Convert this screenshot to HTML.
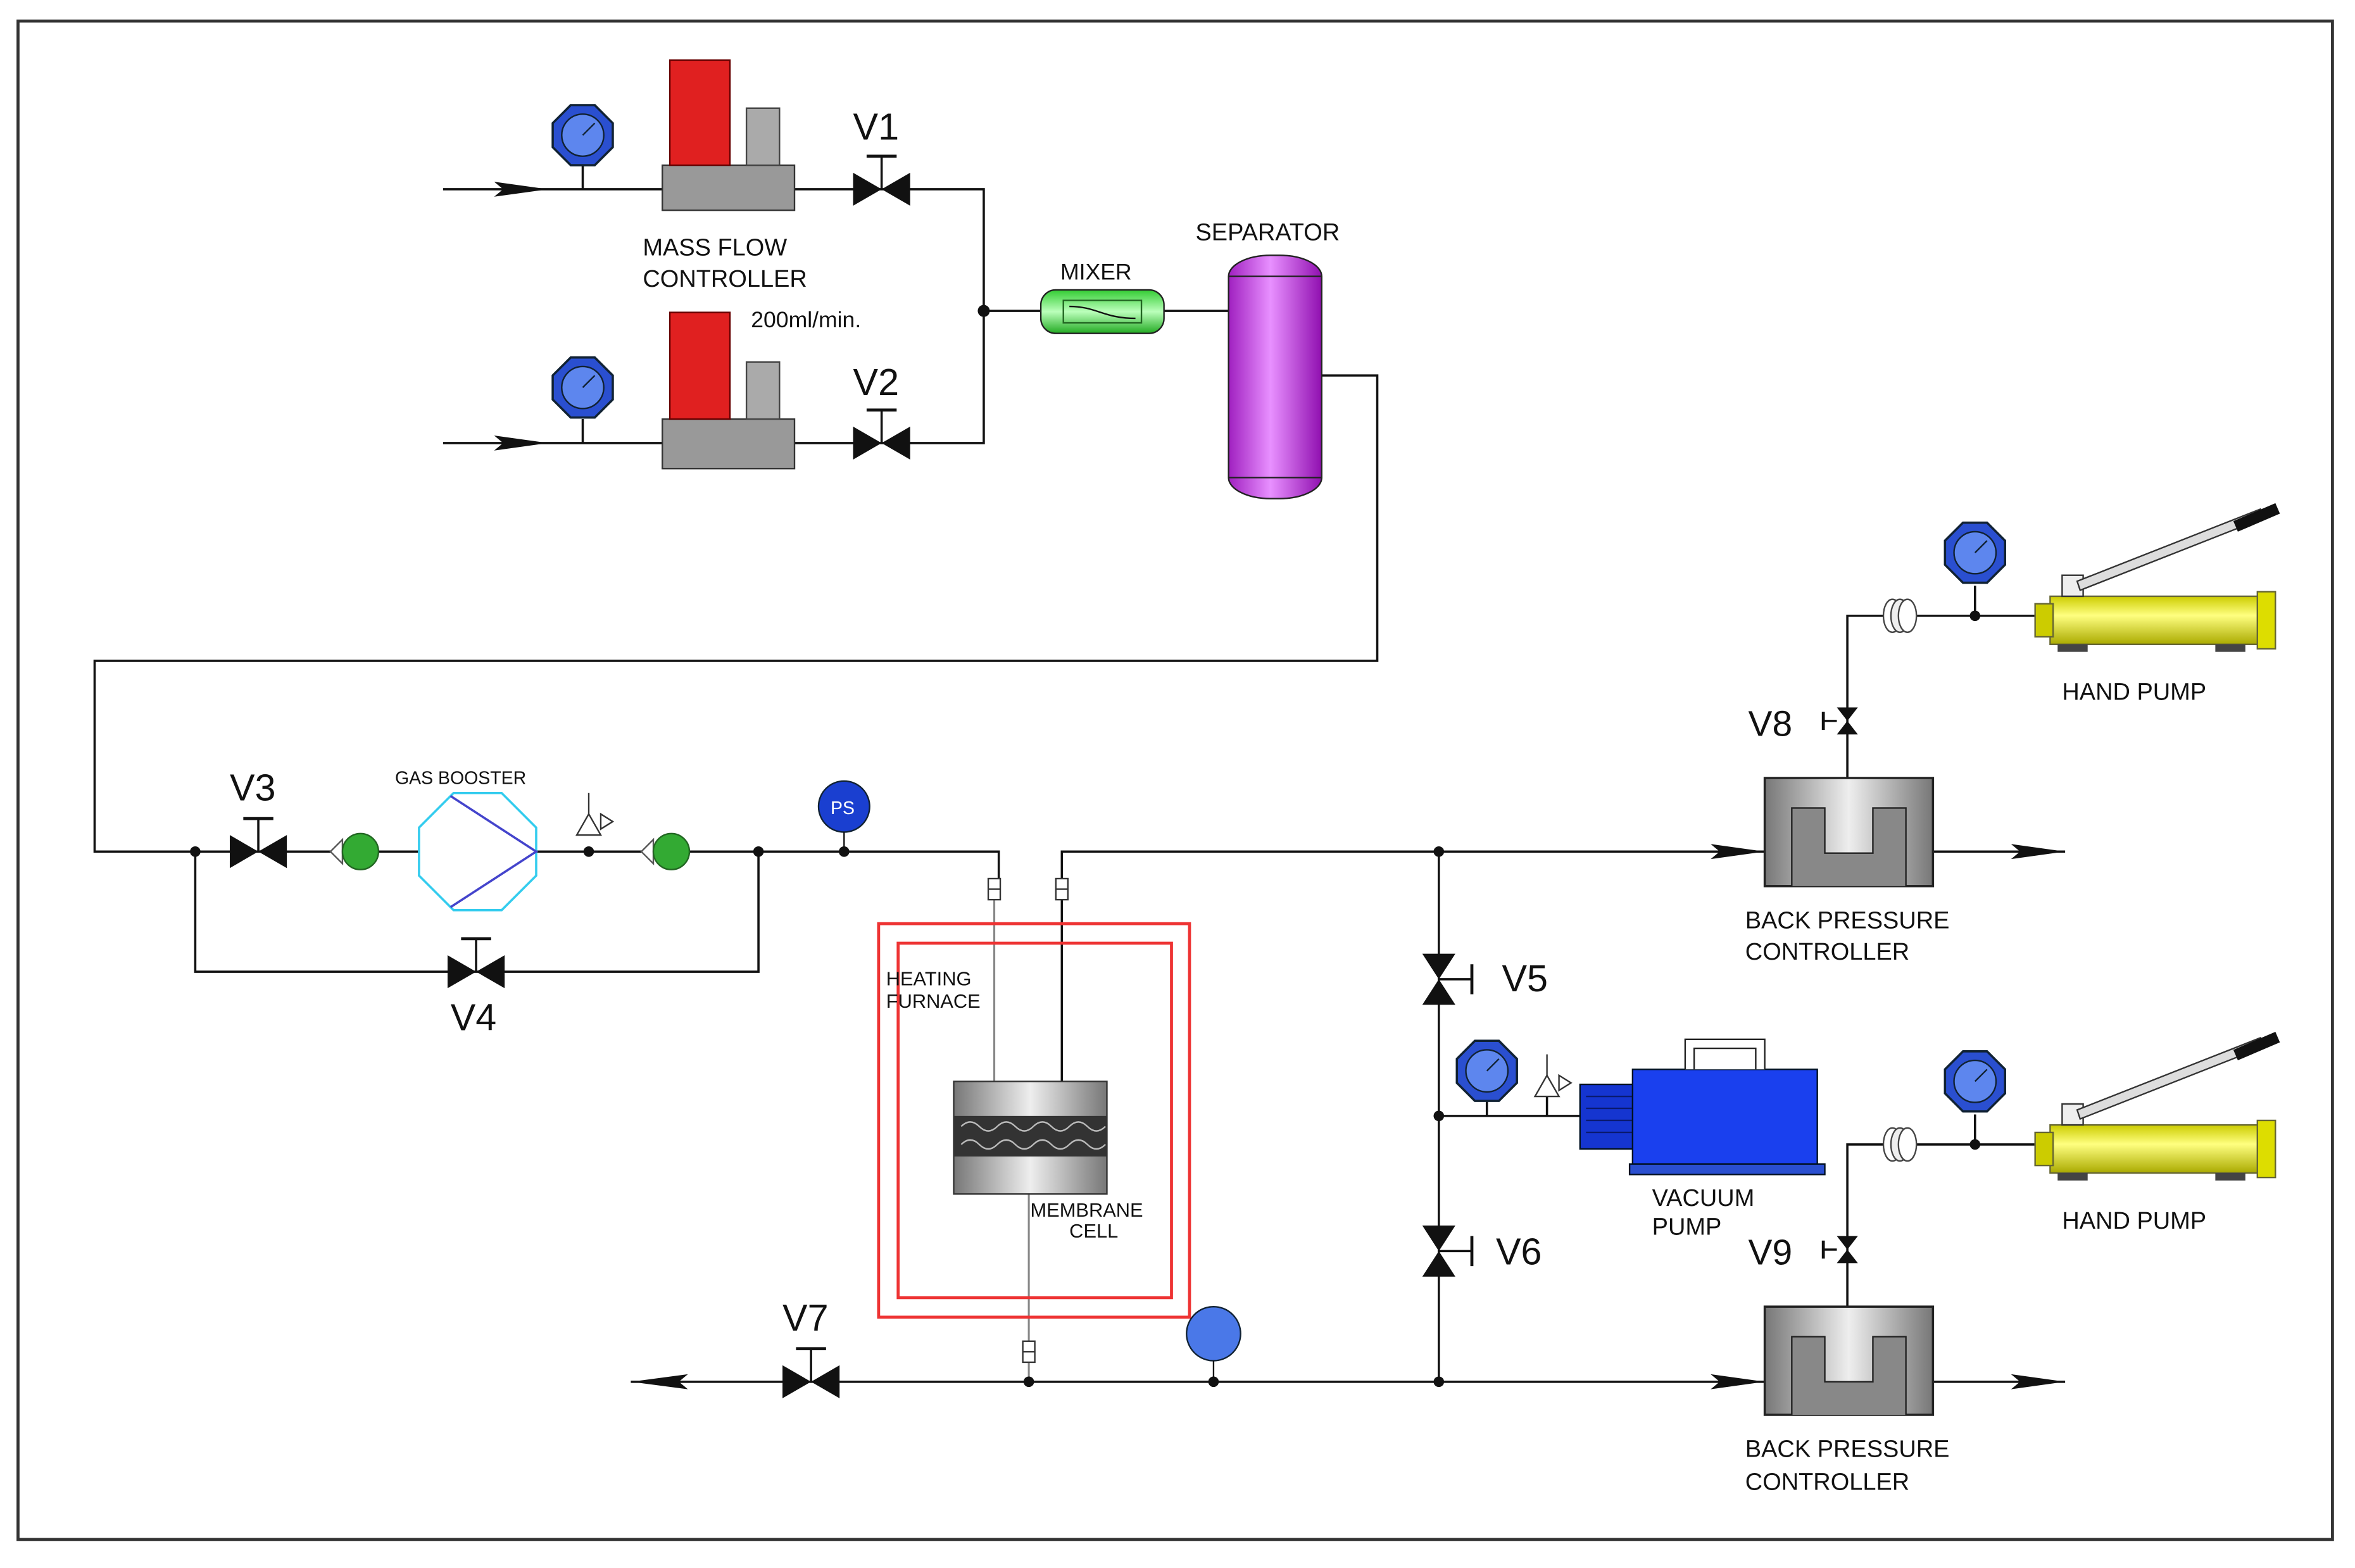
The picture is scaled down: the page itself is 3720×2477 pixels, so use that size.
<!DOCTYPE html>
<html><head><meta charset="utf-8"><style>
html,body{margin:0;padding:0;background:#fff;}
svg{display:block;}
text{font-family:"Liberation Sans",sans-serif;fill:#111;}
</style></head><body>
<svg width="3720" height="2477" viewBox="0 0 1568 1044" preserveAspectRatio="none" xmlns="http://www.w3.org/2000/svg">
<defs>
<linearGradient id="gy" x1="0" x2="1"><stop offset="0" stop-color="#777"/><stop offset="0.5" stop-color="#eee"/><stop offset="1" stop-color="#777"/></linearGradient>
<linearGradient id="pu" x1="0" x2="1"><stop offset="0" stop-color="#a020c0"/><stop offset="0.45" stop-color="#e890ff"/><stop offset="1" stop-color="#9010b0"/></linearGradient>
<linearGradient id="gr" x1="0" x2="0" y1="0" y2="1"><stop offset="0" stop-color="#3c3"/><stop offset="0.5" stop-color="#bfb"/><stop offset="1" stop-color="#2a2"/></linearGradient>
<linearGradient id="ye" x1="0" x2="0" y1="0" y2="1"><stop offset="0" stop-color="#cc0"/><stop offset="0.4" stop-color="#ffff80"/><stop offset="1" stop-color="#aa0"/></linearGradient>
<g id="valveH"><path d="M-19,-11 L19,11 L19,-11 L-19,11 Z" fill="#111"/><line x1="0" y1="0" x2="0" y2="-22" stroke="#111" stroke-width="1.5"/><line x1="-10" y1="-22" x2="10" y2="-22" stroke="#111" stroke-width="2"/></g>
<g id="valveV"><path d="M-11,-17 L11,-17 L-11,17 L11,17 Z" fill="#111"/><line x1="0" y1="0" x2="22" y2="0" stroke="#111" stroke-width="1.5"/><line x1="22" y1="-10" x2="22" y2="10" stroke="#111" stroke-width="2"/></g>
<g id="valveS"><path d="M-7,-9 L7,-9 L-7,9 L7,9 Z" fill="#111"/><line x1="-7" y1="0" x2="-16" y2="0" stroke="#111" stroke-width="1.5"/><line x1="-16" y1="-6" x2="-16" y2="6" stroke="#111" stroke-width="2"/></g>
<g id="gauge"><polygon points="-8,-20 8,-20 20,-8 20,8 8,20 -8,20 -20,8 -20,-8" fill="#2a4fd0" stroke="#123" stroke-width="1.5"/><circle r="14" fill="#5d86ee" stroke="#123"/><line x1="0" y1="0" x2="8" y2="-8" stroke="#123"/></g>
<g id="arrR"><polygon points="-36,-5 0,0 -36,5 -30,0" fill="#111"/></g>
<g id="check"><polygon points="-18,0 -10,-8 -10,8" fill="#fff" stroke="#555"/><circle cx="2" r="12" fill="#3a3" stroke="#262"/></g>
<g id="bpc"><rect x="0" y="0" width="112" height="72" fill="url(#gy)" stroke="#222" stroke-width="1.5"/><path d="M18,72 L18,20 L40,20 L40,50 L72,50 L72,20 L94,20 L94,72" fill="#888" stroke="#222"/></g>
<g id="pump"><rect x="0" y="0" width="140" height="32" fill="url(#ye)" stroke="#663"/><rect x="-10" y="5" width="12" height="22" fill="#cc0" stroke="#663"/><rect x="138" y="-3" width="12" height="38" fill="#dd0" stroke="#663"/><rect x="5" y="32" width="20" height="5" fill="#444"/><rect x="110" y="32" width="20" height="5" fill="#444"/><rect x="8" y="-14" width="14" height="14" fill="#eee" stroke="#333"/><polygon points="18,-10 140,-58 142,-52 20,-4" fill="#ddd" stroke="#333"/><polygon points="122,-50 150,-62 153,-55 125,-43" fill="#111"/></g>
<g id="coup"><ellipse cx="-5" cy="0" rx="6" ry="11" fill="#fff" stroke="#444"/><ellipse cx="0" cy="0" rx="6" ry="11" fill="#eee" stroke="#444"/><ellipse cx="5" cy="0" rx="6" ry="11" fill="#fff" stroke="#444"/></g>
<g id="relief"><polygon points="-8,8 8,8 0,-6" fill="#fff" stroke="#333"/><line x1="0" y1="-6" x2="0" y2="-20" stroke="#333"/><polygon points="8,-6 8,4 16,-1" fill="#fff" stroke="#333"/></g>
<g id="fit"><rect x="-4" y="-7" width="8" height="14" fill="#fff" stroke="#333"/><line x1="-4" y1="0" x2="4" y2="0" stroke="#333"/></g>
</defs>
<rect x="12" y="14" width="1541" height="1011" fill="#fff" stroke="#333" stroke-width="2"/>
<g stroke="#111" stroke-width="1.5" fill="none">
<path d="M295,126 H441 M529,126 H655 V295 H529 M441,295 H295"/>
<path d="M388,110 V126 M388,279 V295"/>
<path d="M655,207 H693 M775,207 H818"/>
<path d="M880,250 H917 V440 H63 V567 H665 V590"/>
<path d="M130,567 V647 H505 V567"/>
<path d="M707,590 V567 H1175 M1287,567 H1375"/>
<path d="M958,567 V920 M958,743 H1055 M990,733 V743 M1030,728 V743"/>
<path d="M420,920 H1175 M1287,920 H1375"/>
<path d="M1230,518 V410 H1365 M1315,390 V410"/>
<path d="M1230,870 V762 H1365 M1315,742 V762"/>
</g>
<path d="M662,598 V720 M707,598 V720 M685,795 V920" stroke="#888" stroke-width="1.3" fill="none"/>
<path d="M707,598 V720" stroke="#111" stroke-width="1.5"/>
<!-- MFCs -->
<rect x="441" y="110" width="88" height="30" fill="#999" stroke="#333"/><rect x="446" y="40" width="40" height="70" fill="#e02020" stroke="#600"/><rect x="497" y="72" width="22" height="38" fill="#aaa" stroke="#444"/>
<rect x="441" y="279" width="88" height="33" fill="#999" stroke="#333"/><rect x="446" y="208" width="40" height="71" fill="#e02020" stroke="#600"/><rect x="497" y="241" width="22" height="38" fill="#aaa" stroke="#444"/>
<use href="#gauge" x="388" y="90"/><use href="#gauge" x="388" y="258"/>
<use href="#arrR" x="365" y="126"/><use href="#arrR" x="365" y="295"/>
<use href="#valveH" x="587" y="126"/><use href="#valveH" x="587" y="295"/>
<text x="568" y="93" font-size="25">V1</text><text x="568" y="263" font-size="25">V2</text>
<text x="428" y="170" font-size="16">MASS FLOW</text><text x="428" y="191" font-size="16">CONTROLLER</text>
<text x="500" y="218" font-size="15">200ml/min.</text>
<circle cx="655" cy="207" r="4" fill="#111"/>
<rect x="693" y="193" width="82" height="29" rx="10" fill="url(#gr)" stroke="#222"/><path d="M708,200 H760 V215 H708 Z" fill="none" stroke="#262"/><path d="M712,204 C730,204 735,212 756,212" stroke="#111" fill="none"/>
<text x="706" y="186" font-size="15">MIXER</text>
<rect x="818" y="170" width="62" height="162" rx="28" ry="14" fill="url(#pu)" stroke="#222"/>
<line x1="818" y1="184" x2="880" y2="184" stroke="#222"/><line x1="818" y1="318" x2="880" y2="318" stroke="#222"/>
<text x="796" y="160" font-size="16">SEPARATOR</text>
<!-- mid line -->
<circle cx="130" cy="567" r="3.5" fill="#111"/><circle cx="392" cy="567" r="3.5" fill="#111"/><circle cx="505" cy="567" r="3.5" fill="#111"/><circle cx="562" cy="567" r="3.5" fill="#111"/>
<use href="#valveH" x="172" y="567"/><text x="153" y="533" font-size="25">V3</text>
<use href="#valveH" x="317" y="647"/><text x="300" y="686" font-size="25">V4</text>
<use href="#check" x="238" y="567"/><use href="#check" x="445" y="567"/>
<polygon points="302,528 334,528 357,551 357,583 334,606 302,606 279,583 279,551" fill="#fff" stroke="#3ce" stroke-width="1.5"/>
<path d="M300,530 L357,567 L300,604" fill="none" stroke="#44c" stroke-width="1.5"/>
<text x="263" y="522" font-size="12">GAS BOOSTER</text>
<use href="#relief" x="392" y="548"/>
<circle cx="562" cy="537" r="17" fill="#1a3fd0" stroke="#123"/><text x="553" y="542" font-size="12" style="fill:#fff">PS</text>
<line x1="562" y1="554" x2="562" y2="567" stroke="#111"/>
<!-- furnace -->
<rect x="585" y="615" width="207" height="262" fill="none" stroke="#e33" stroke-width="2"/>
<rect x="598" y="628" width="182" height="236" fill="none" stroke="#e33" stroke-width="2"/>
<use href="#fit" x="662" y="592"/><use href="#fit" x="707" y="592"/><use href="#fit" x="685" y="900"/>
<text x="590" y="656" font-size="13">HEATING</text><text x="590" y="671" font-size="13">FURNACE</text>
<rect x="635" y="720" width="102" height="75" fill="url(#gy)" stroke="#333"/>
<rect x="635" y="743" width="102" height="27" fill="#333"/>
<path d="M640,750 q6,-6 12,0 t12,0 t12,0 t12,0 t12,0 t12,0 t12,0 t12,0 M640,762 q6,-6 12,0 t12,0 t12,0 t12,0 t12,0 t12,0 t12,0 t12,0" stroke="#bbb" fill="none"/>
<text x="686" y="810" font-size="13">MEMBRANE</text><text x="712" y="824" font-size="13">CELL</text>
<!-- bottom -->
<polygon points="420,920 458,915 452,920 458,925" fill="#111"/>
<use href="#valveH" x="540" y="920"/><text x="521" y="886" font-size="25">V7</text>
<circle cx="685" cy="920" r="3.5" fill="#111"/><circle cx="808" cy="920" r="3.5" fill="#111"/><circle cx="958" cy="920" r="3.5" fill="#111"/>
<circle cx="808" cy="888" r="18" fill="#4a78e8" stroke="#123"/><line x1="808" y1="906" x2="808" y2="920" stroke="#111"/>
<circle cx="958" cy="567" r="3.5" fill="#111"/><circle cx="958" cy="743" r="3.5" fill="#111"/>
<use href="#valveV" x="958" y="652"/><text x="1000" y="660" font-size="25">V5</text>
<use href="#valveV" x="958" y="833"/><text x="996" y="842" font-size="25">V6</text>
<use href="#gauge" x="990" y="713" transform="translate(0,0)"/>
<use href="#relief" x="1030" y="722"/>
<rect x="1052" y="722" width="38" height="43" fill="#1535d0" stroke="#012"/>
<path d="M1056,730 H1088 M1056,738 H1088 M1056,746 H1088 M1056,754 H1088" stroke="#0a1a70"/>
<rect x="1087" y="712" width="123" height="63" fill="#1a40ee" stroke="#012"/>
<path d="M1122,712 V692 H1175 V712 M1128,712 V698 H1169 V712" fill="#fff" stroke="#222"/>
<rect x="1085" y="775" width="130" height="7" fill="#2a4fd0" stroke="#012"/>
<text x="1100" y="803" font-size="16">VACUUM</text><text x="1100" y="822" font-size="16">PUMP</text>
<!-- BPCs -->
<use href="#arrR" x="1175" y="567"/><use href="#arrR" x="1375" y="567"/>
<use href="#arrR" x="1175" y="920"/><use href="#arrR" x="1375" y="920"/>
<use href="#bpc" x="1175" y="518"/><use href="#bpc" x="1175" y="870"/>
<text x="1162" y="618" font-size="16">BACK PRESSURE</text><text x="1162" y="639" font-size="16">CONTROLLER</text>
<text x="1162" y="970" font-size="16">BACK PRESSURE</text><text x="1162" y="992" font-size="16">CONTROLLER</text>
<use href="#valveS" x="1230" y="480"/><text x="1164" y="490" font-size="24">V8</text>
<use href="#valveS" x="1230" y="832"/><text x="1164" y="842" font-size="24">V9</text>
<use href="#coup" x="1265" y="410"/><use href="#coup" x="1265" y="762"/>
<circle cx="1315" cy="410" r="3.5" fill="#111"/><circle cx="1315" cy="762" r="3.5" fill="#111"/>
<use href="#gauge" x="1315" y="368"/><use href="#gauge" x="1315" y="720"/>
<use href="#pump" x="1365" y="397"/><use href="#pump" x="1365" y="749"/>
<text x="1373" y="466" font-size="16">HAND PUMP</text><text x="1373" y="818" font-size="16">HAND PUMP</text>
</svg>
</body></html>
